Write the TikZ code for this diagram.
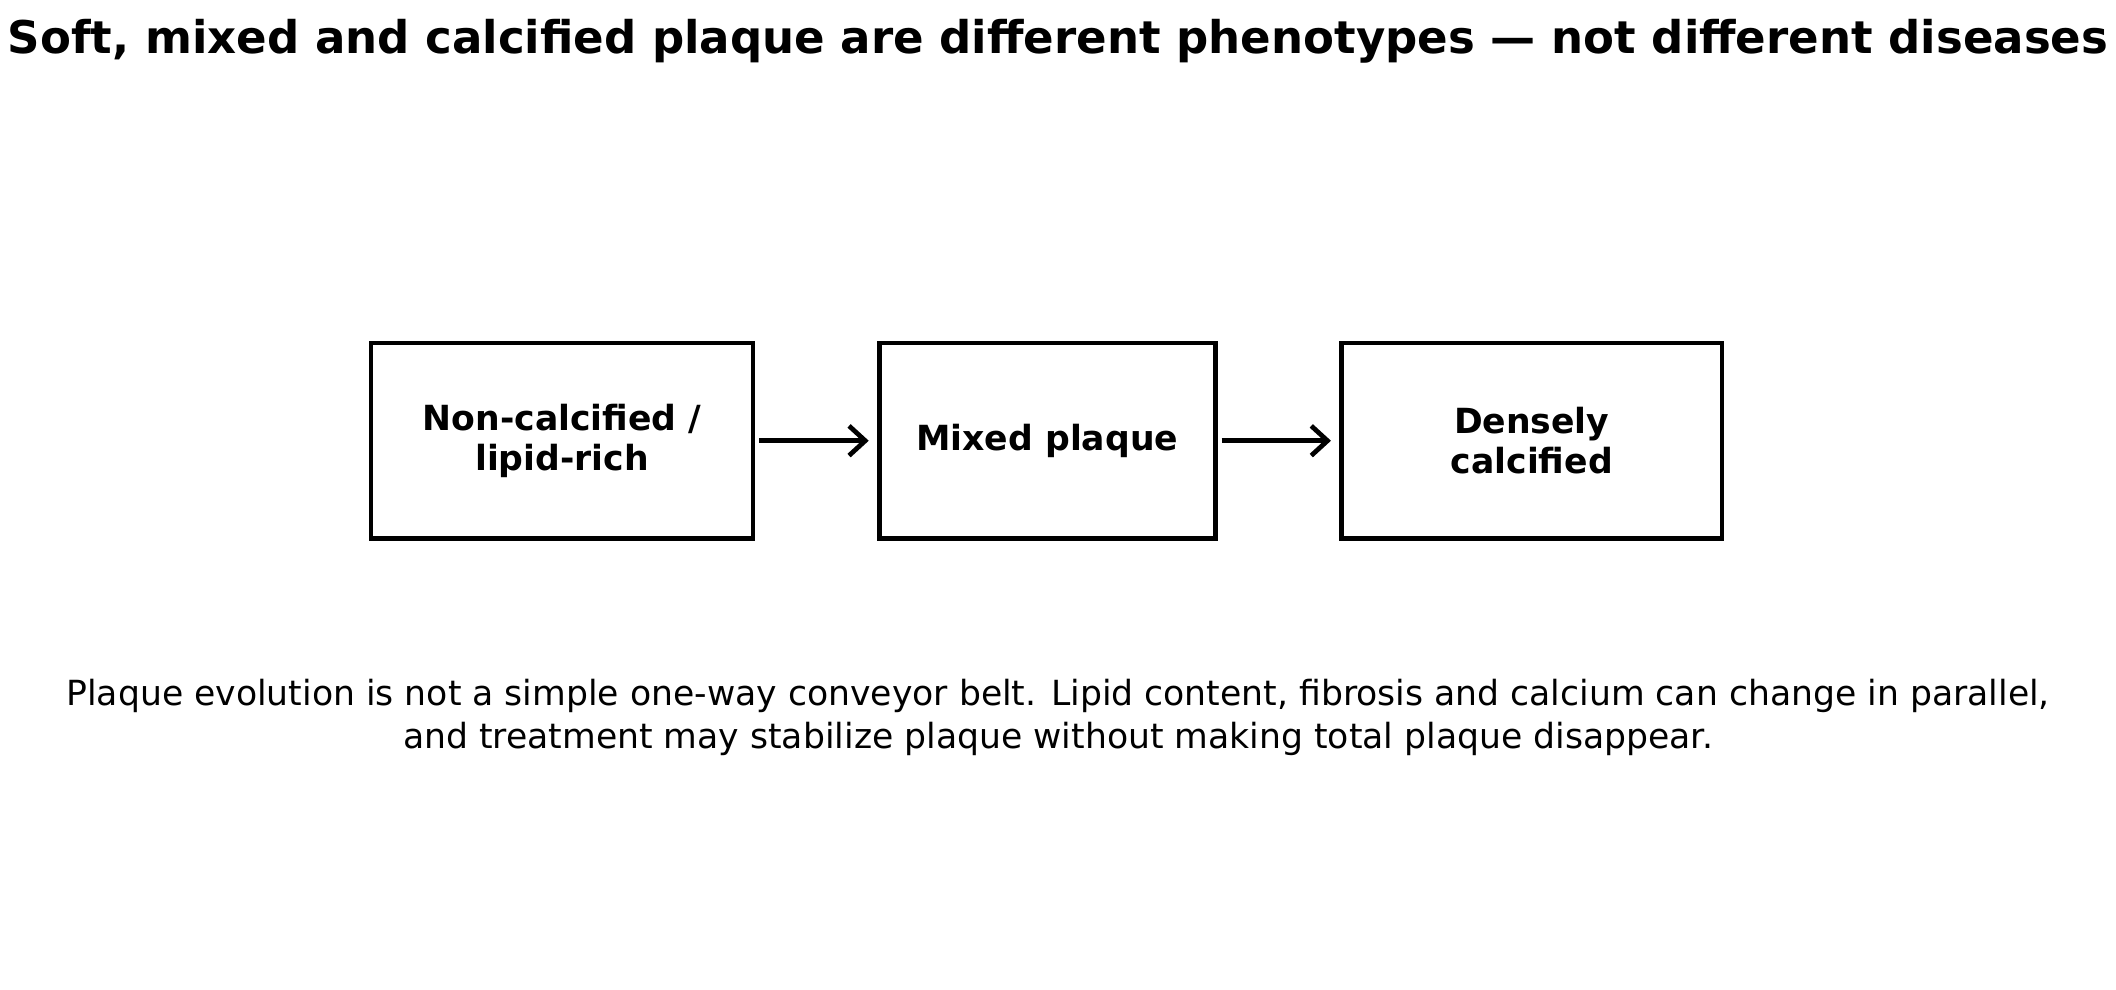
\documentclass[tikz,border=0pt]{standalone}
\usepackage{fontspec}
\setmainfont{DejaVu Sans}
\usetikzlibrary{arrows.meta, positioning}

\begin{document}
\begin{tikzpicture}[
  stage/.style = {draw, line width=1pt, minimum height=1.45cm, inner sep=0pt, align=center, font=\fontsize{7.3}{8.4}\selectfont\bfseries},
  arrow/.style = {line width=1pt, -{Straight Barb[length=1.2mm, width=2.2mm]}},
  node distance=0.9cm
]
  \useasboundingbox (0,0) rectangle (15.68,7.336);

  % Title
  \node[font=\fontsize{9.5}{11}\selectfont\bfseries] (title) at (7.84,7.03)
    {Soft, mixed and calcified plaque are different phenotypes — not different diseases};

  % Stages
  \node[stage, minimum width=2.83cm] (soft) at (4.165,4.07) {Non-calcified /\\lipid-rich};
  \node[stage, minimum width=2.49cm, right=of soft] (mixed) {Mixed plaque};
  \node[stage, minimum width=2.82cm, right=of mixed] (calc) {Densely\\calcified};

  \draw[arrow] ([xshift=0.03cm]soft.east) -- ([xshift=-0.06cm]mixed.west);
  \draw[arrow] ([xshift=0.03cm]mixed.east) -- ([xshift=-0.06cm]calc.west);

  % Note
  \node[align=center, font=\fontsize{7.3}{9.2}\selectfont] (note) at (7.84,2.02)
    {Plaque evolution is not a simple one-way conveyor belt. Lipid content, fibrosis and calcium can change in parallel,\\
     and treatment may stabilize plaque without making total plaque disappear.};
\end{tikzpicture}
\end{document}
